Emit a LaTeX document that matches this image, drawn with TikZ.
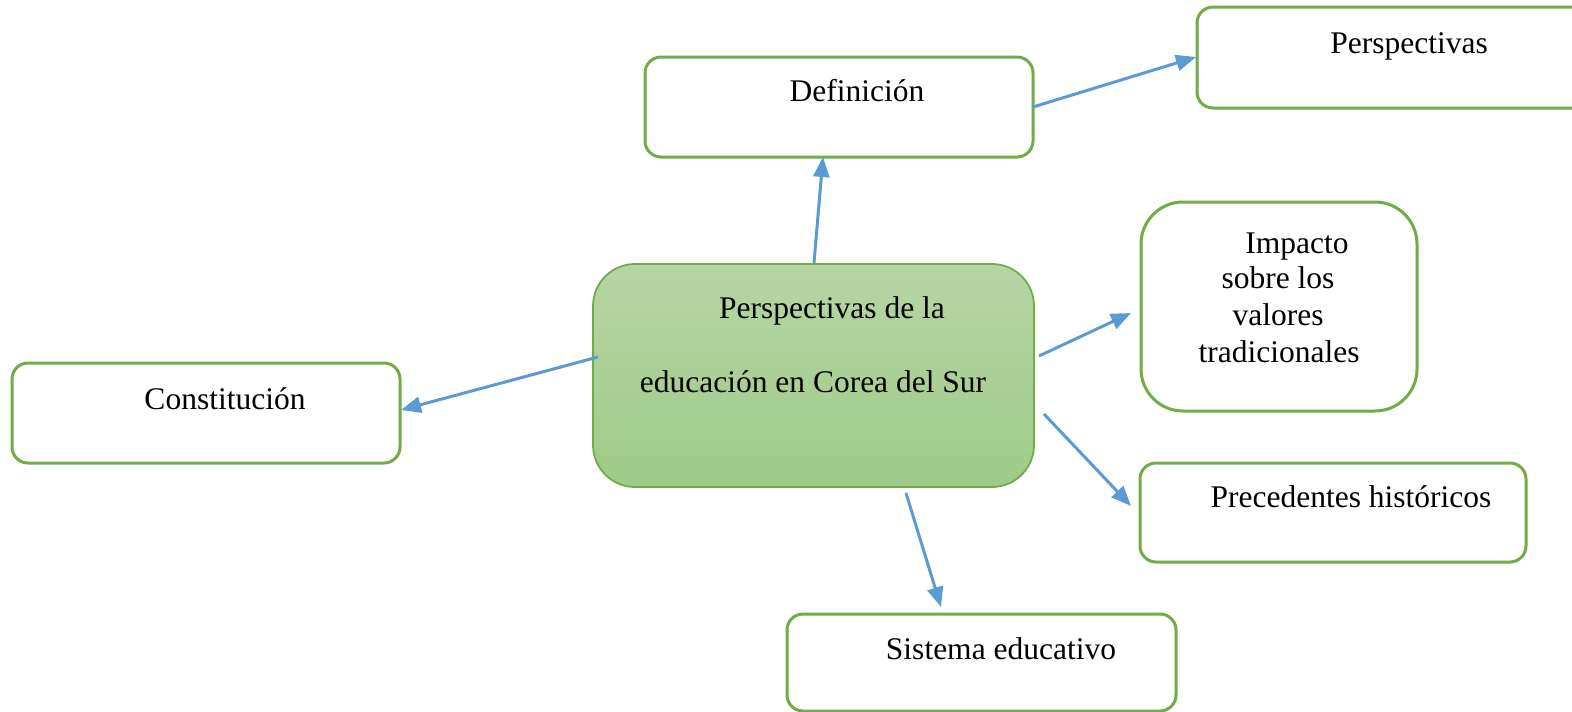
\documentclass[tikz,border=0pt]{standalone}
\usepackage{fontspec}
\setmainfont{Liberation Serif}
\usetikzlibrary{arrows.meta}
\definecolor{boxgreen}{RGB}{112,173,71}
\definecolor{arrowblue}{RGB}{91,155,213}
\definecolor{shadetop}{RGB}{182,214,165}
\definecolor{shadebot}{RGB}{159,202,136}
\tikzset{
  box/.style={draw=boxgreen, line width=3pt, rounded corners=16pt, fill=white},
  bigbox/.style={draw=boxgreen, line width=1.8pt, rounded corners=42pt},
  txt/.style={anchor=base, inner sep=0pt, font=\fontsize{31.5}{36}\selectfont},
  conn/.style={draw=arrowblue, line width=3pt, -{Triangle[length=20pt,width=16pt]}}
}
\begin{document}
\begin{tikzpicture}[x=1pt,y=-1pt]
\useasboundingbox (0,0) rectangle (1572,712);
% boxes
\path[box] (645,57) rectangle (1033,157);
\node[inner sep=0pt] (def) at (839,107) {};
\path[box] (1197,7) rectangle (1600,108);
\node[inner sep=0pt] (per) at (1398,57) {};
\path[box] (12,363) rectangle (400,463);
\node[inner sep=0pt] (con) at (206,413) {};
\path[box, rounded corners=42pt] (1141,202) rectangle (1417,411);
\node[inner sep=0pt] (imp) at (1279,306) {};
\path[box] (1140,463) rectangle (1526,562);
\node[inner sep=0pt] (pre) at (1333,512) {};
\path[box] (787,614) rectangle (1176,711);
\node[inner sep=0pt] (sis) at (981,662) {};
\path[bigbox, top color=shadetop, bottom color=shadebot] (593,264) rectangle (1034,487);
\node[inner sep=0pt] (cen) at (813,375) {};
% texts
\node[txt] (tdef) at (857,101) {Definición};
\node[txt] (tper) at (1409,53) {Perspectivas};
\node[txt] (tcon) at (225,409) {Constitución};
\node[txt] (tsis) at (1001,659) {Sistema educativo};
\node[txt] (tpre) at (1351,507) {Precedentes históricos};
\node[txt] (tc1) at (832,318) {Perspectivas de la};
\node[txt] (tc2) at (813,392) {educación en Corea del Sur};
\node[txt] (ti1) at (1297,253) {Impacto};
\node[txt] (ti2) at (1278,288) {sobre los};
\node[txt] (ti3) at (1278,325) {valores};
\node[txt] (ti4) at (1279,362) {tradicionales};
% connector ends
\coordinate (s1) at (814,263); \coordinate (e1) at (823,157);
\coordinate (s2) at (1033,107); \coordinate (e2) at (1196,57);
\coordinate (s3) at (598,357); \coordinate (e3) at (401,410);
\coordinate (s4) at (1039,356); \coordinate (e4) at (1131,313);
\coordinate (s5) at (1044,414); \coordinate (e5) at (1131,506);
\coordinate (s6) at (906,493); \coordinate (e6) at (941,607);
\draw[conn] (s1) -- (e1);
\draw[conn] (s2) -- (e2);
\draw[conn] (s3) -- (e3);
\draw[conn] (s4) -- (e4);
\draw[conn] (s5) -- (e5);
\draw[conn] (s6) -- (e6);
\end{tikzpicture}
\end{document}
